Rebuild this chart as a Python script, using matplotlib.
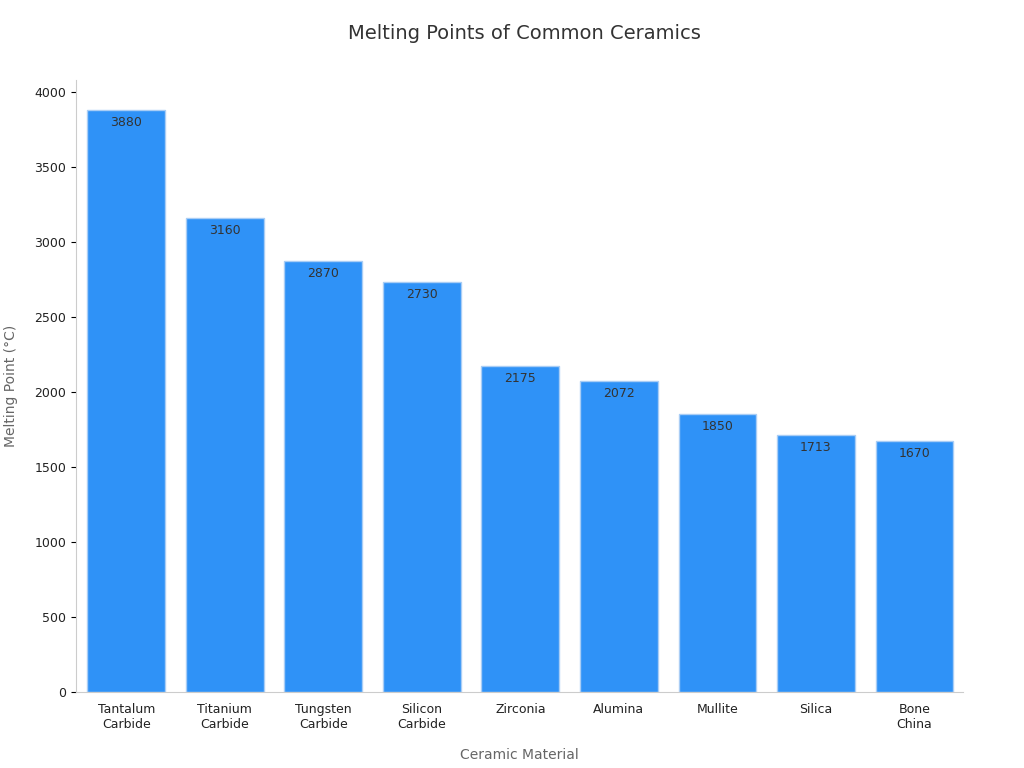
import matplotlib
matplotlib.use("Agg")
import matplotlib.pyplot as plt

materials = ["Tantalum\nCarbide", "Titanium\nCarbide", "Tungsten\nCarbide", "Silicon\nCarbide",
             "Zirconia", "Alumina", "Mullite", "Silica", "Bone\nChina"]
melting_points = [3880, 3160, 2870, 2730, 2175, 2072, 1850, 1713, 1670]

fig = plt.figure(figsize=(10.24, 7.68), dpi=100)
ax = fig.add_axes([0.0742, 0.099, 0.866, 0.797])

bars = ax.bar(range(len(materials)), melting_points, width=0.79,
              color="#2f92f7", edgecolor="#a9cdf5", linewidth=1)
for b, v in zip(bars, melting_points):
    ax.text(b.get_x() + b.get_width() / 2, v - 40, str(v), ha="center", va="top",
            fontsize=9, color="#333333")

ax.set_xlim(-0.51, 8.49)
ax.set_ylim(0, 4080)
ax.set_xticks(range(len(materials)))
ax.set_xticklabels(materials, fontsize=9, color="#222222")
ax.set_yticks(range(0, 4001, 500))
ax.tick_params(axis="y", labelsize=9, labelcolor="#222222")
ax.tick_params(axis="x", length=0, pad=8)
for s in ["top", "right"]:
    ax.spines[s].set_visible(False)
for s in ["left", "bottom"]:
    ax.spines[s].set_color("#cccccc")

ax.set_xlabel("Ceramic Material", fontsize=10, color="#666666", labelpad=12)
ax.set_ylabel("Melting Point (°C)", fontsize=10, color="#666666", labelpad=12)
fig.text(0.512, 0.957, "Melting Points of Common Ceramics", ha="center", va="center",
         fontsize=14, color="#333333")

fig.savefig("out.png", dpi=100)
